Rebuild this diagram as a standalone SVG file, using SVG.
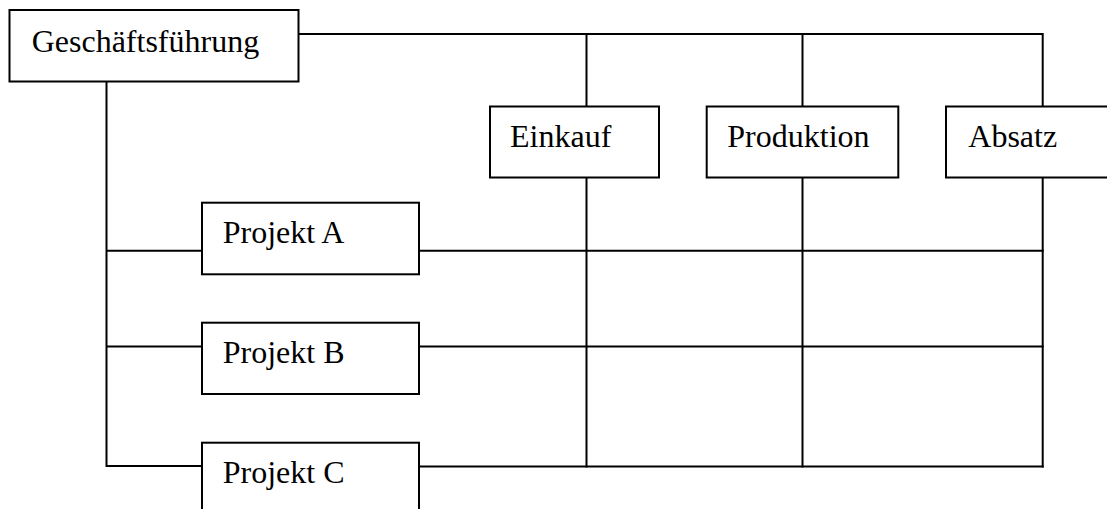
<svg xmlns="http://www.w3.org/2000/svg" width="1107" height="509" viewBox="0 0 1107 509">
<style>
.box{fill:#fff;stroke:#000;stroke-width:2}
.ln{fill:none;stroke:#000;stroke-width:2;stroke-linecap:square}
.t{font-family:"Liberation Serif","Times New Roman",serif;font-size:32px;fill:#000}
</style>
<rect width="1107" height="509" fill="#fff"/>
<g id="connectors">
<path class="ln" d="M298.5,34 H1042.7 M586.5,34 V106.5 M802.5,34 V106.5 M1042.7,34 V106.5"/>
<path class="ln" d="M106.5,81.5 V466 M106.5,250.7 H202 M106.5,346.5 H202 M106.5,466 H202"/>
<path class="ln" d="M586.5,177.5 V466.5 M802.5,177.5 V466.5 M1042.7,177.5 V466.5"/>
<path class="ln" d="M419,250.7 H1042.7 M419,346.5 H1042.7 M419,466.5 H1042.7"/>
</g>
<g id="gf"><rect class="box" x="9.5" y="10" width="289" height="71.5"/><text class="t" x="31.7" y="51.7">Geschäftsführung</text></g>
<g id="einkauf"><rect class="box" x="490" y="106.5" width="169" height="71"/><text class="t" x="510" y="146.7">Einkauf</text></g>
<g id="produktion"><rect class="box" x="706.7" y="106.5" width="191.6" height="71"/><text class="t" x="727.3" y="146.7">Produktion</text></g>
<g id="absatz"><rect class="box" x="946" y="106.5" width="180" height="71"/><text class="t" x="968.3" y="146.7">Absatz</text></g>
<g id="projektA"><rect class="box" x="202" y="202.7" width="217" height="71.6"/><text class="t" x="222.7" y="243.3">Projekt A</text></g>
<g id="projektB"><rect class="box" x="202" y="322.7" width="217" height="71.3"/><text class="t" x="222.7" y="363">Projekt B</text></g>
<g id="projektC"><rect class="box" x="202" y="442.7" width="217" height="80"/><text class="t" x="222.7" y="483.3">Projekt C</text></g>
</svg>
